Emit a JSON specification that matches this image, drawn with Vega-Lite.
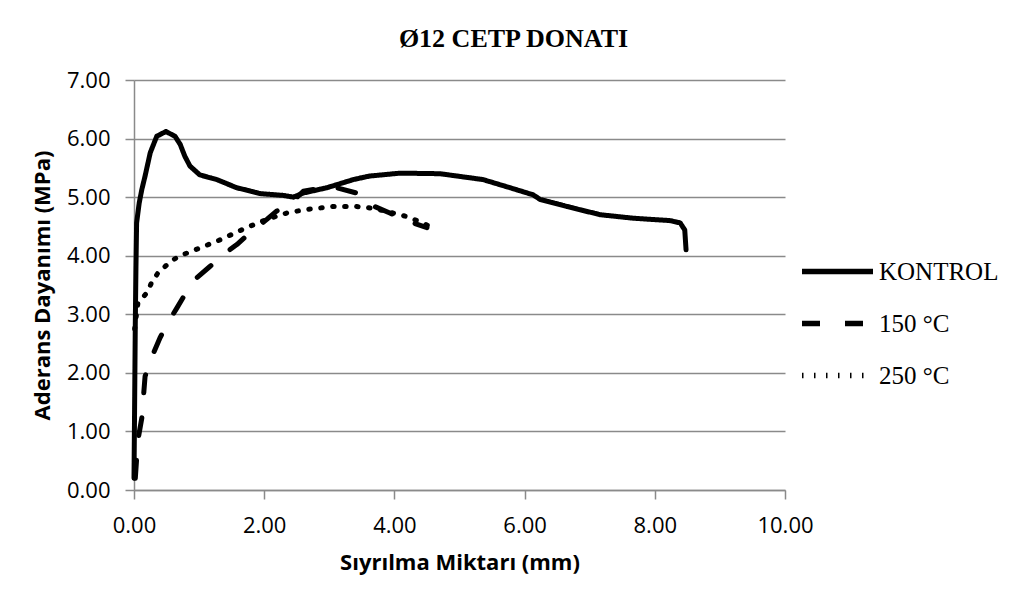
{
  "$schema": "https://vega.github.io/schema/vega-lite/v6.json",
  "autosize": "none",
  "width": 651,
  "height": 410,
  "padding": {"left": 134, "top": 80, "right": 234, "bottom": 120},
  "background": "white",
  "title": {
    "text": "Ø12 CETP DONATI",
    "font": "Liberation Serif",
    "fontSize": 26,
    "fontWeight": "bold",
    "color": "black",
    "anchor": "middle",
    "dx": 54,
    "baseline": "alphabetic",
    "offset": -4
  },
  "config": {
    "view": {"stroke": null},
    "line": {"strokeCap": "round", "strokeJoin": "round"}
  },
  "data": {
    "values": [
      {"s": "KONTROL", "i": 1, "x": 0.00, "y": 0.20},
      {"s": "KONTROL", "i": 2, "x": 0.01, "y": 1.50},
      {"s": "KONTROL", "i": 3, "x": 0.02, "y": 2.85},
      {"s": "KONTROL", "i": 4, "x": 0.03, "y": 3.80},
      {"s": "KONTROL", "i": 5, "x": 0.04, "y": 4.56},
      {"s": "KONTROL", "i": 6, "x": 0.08, "y": 4.90},
      {"s": "KONTROL", "i": 7, "x": 0.12, "y": 5.13},
      {"s": "KONTROL", "i": 8, "x": 0.17, "y": 5.36},
      {"s": "KONTROL", "i": 9, "x": 0.25, "y": 5.76},
      {"s": "KONTROL", "i": 10, "x": 0.35, "y": 6.04},
      {"s": "KONTROL", "i": 11, "x": 0.49, "y": 6.12},
      {"s": "KONTROL", "i": 12, "x": 0.63, "y": 6.04},
      {"s": "KONTROL", "i": 13, "x": 0.71, "y": 5.90},
      {"s": "KONTROL", "i": 14, "x": 0.78, "y": 5.70},
      {"s": "KONTROL", "i": 15, "x": 0.86, "y": 5.53},
      {"s": "KONTROL", "i": 16, "x": 1.01, "y": 5.38},
      {"s": "KONTROL", "i": 17, "x": 1.27, "y": 5.30},
      {"s": "KONTROL", "i": 18, "x": 1.58, "y": 5.16},
      {"s": "KONTROL", "i": 19, "x": 1.94, "y": 5.06},
      {"s": "KONTROL", "i": 20, "x": 2.29, "y": 5.03},
      {"s": "KONTROL", "i": 21, "x": 2.45, "y": 5.00},
      {"s": "KONTROL", "i": 22, "x": 2.60, "y": 5.07},
      {"s": "KONTROL", "i": 23, "x": 2.96, "y": 5.16},
      {"s": "KONTROL", "i": 24, "x": 3.37, "y": 5.30},
      {"s": "KONTROL", "i": 25, "x": 3.62, "y": 5.36},
      {"s": "KONTROL", "i": 26, "x": 4.09, "y": 5.41},
      {"s": "KONTROL", "i": 27, "x": 4.70, "y": 5.40},
      {"s": "KONTROL", "i": 28, "x": 5.36, "y": 5.30},
      {"s": "KONTROL", "i": 29, "x": 5.78, "y": 5.16},
      {"s": "KONTROL", "i": 30, "x": 6.13, "y": 5.04},
      {"s": "KONTROL", "i": 31, "x": 6.24, "y": 4.96},
      {"s": "KONTROL", "i": 32, "x": 6.65, "y": 4.84},
      {"s": "KONTROL", "i": 33, "x": 7.16, "y": 4.70},
      {"s": "KONTROL", "i": 34, "x": 7.67, "y": 4.64},
      {"s": "KONTROL", "i": 35, "x": 8.23, "y": 4.60},
      {"s": "KONTROL", "i": 36, "x": 8.39, "y": 4.56},
      {"s": "KONTROL", "i": 37, "x": 8.46, "y": 4.44},
      {"s": "KONTROL", "i": 38, "x": 8.48, "y": 4.10},
      {"s": "150 °C", "i": 1, "x": 0.02, "y": 0.20},
      {"s": "150 °C", "i": 2, "x": 0.06, "y": 0.85},
      {"s": "150 °C", "i": 3, "x": 0.12, "y": 1.23},
      {"s": "150 °C", "i": 4, "x": 0.17, "y": 1.94},
      {"s": "150 °C", "i": 5, "x": 0.30, "y": 2.34},
      {"s": "150 °C", "i": 6, "x": 0.40, "y": 2.60},
      {"s": "150 °C", "i": 7, "x": 0.55, "y": 2.91},
      {"s": "150 °C", "i": 8, "x": 0.66, "y": 3.11},
      {"s": "150 °C", "i": 9, "x": 0.81, "y": 3.39},
      {"s": "150 °C", "i": 10, "x": 0.96, "y": 3.62},
      {"s": "150 °C", "i": 11, "x": 1.17, "y": 3.82},
      {"s": "150 °C", "i": 12, "x": 1.37, "y": 4.02},
      {"s": "150 °C", "i": 13, "x": 1.58, "y": 4.19},
      {"s": "150 °C", "i": 14, "x": 1.78, "y": 4.39},
      {"s": "150 °C", "i": 15, "x": 2.04, "y": 4.62},
      {"s": "150 °C", "i": 16, "x": 2.19, "y": 4.76},
      {"s": "150 °C", "i": 17, "x": 2.44, "y": 4.93},
      {"s": "150 °C", "i": 18, "x": 2.60, "y": 5.10},
      {"s": "150 °C", "i": 19, "x": 2.90, "y": 5.16},
      {"s": "150 °C", "i": 20, "x": 3.11, "y": 5.16},
      {"s": "150 °C", "i": 21, "x": 3.42, "y": 5.07},
      {"s": "150 °C", "i": 22, "x": 3.57, "y": 4.90},
      {"s": "150 °C", "i": 23, "x": 3.93, "y": 4.73},
      {"s": "150 °C", "i": 24, "x": 4.13, "y": 4.62},
      {"s": "150 °C", "i": 25, "x": 4.50, "y": 4.48},
      {"s": "250 °C", "i": 1, "x": 0.01, "y": 2.75},
      {"s": "250 °C", "i": 2, "x": 0.06, "y": 3.19},
      {"s": "250 °C", "i": 3, "x": 0.20, "y": 3.37},
      {"s": "250 °C", "i": 4, "x": 0.27, "y": 3.54},
      {"s": "250 °C", "i": 5, "x": 0.37, "y": 3.71},
      {"s": "250 °C", "i": 6, "x": 0.48, "y": 3.82},
      {"s": "250 °C", "i": 7, "x": 0.60, "y": 3.93},
      {"s": "250 °C", "i": 8, "x": 0.73, "y": 4.01},
      {"s": "250 °C", "i": 9, "x": 1.01, "y": 4.13},
      {"s": "250 °C", "i": 10, "x": 1.32, "y": 4.27},
      {"s": "250 °C", "i": 11, "x": 1.73, "y": 4.48},
      {"s": "250 °C", "i": 12, "x": 2.04, "y": 4.62},
      {"s": "250 °C", "i": 13, "x": 2.35, "y": 4.73},
      {"s": "250 °C", "i": 14, "x": 2.65, "y": 4.79},
      {"s": "250 °C", "i": 15, "x": 3.06, "y": 4.84},
      {"s": "250 °C", "i": 16, "x": 3.42, "y": 4.84},
      {"s": "250 °C", "i": 17, "x": 3.60, "y": 4.82},
      {"s": "250 °C", "i": 18, "x": 3.75, "y": 4.79},
      {"s": "250 °C", "i": 19, "x": 4.09, "y": 4.70},
      {"s": "250 °C", "i": 20, "x": 4.24, "y": 4.65},
      {"s": "250 °C", "i": 21, "x": 4.55, "y": 4.50}
    ]
  },
  "mark": {"type": "line", "strokeWidth": 5, "color": "black", "strokeCap": "round", "strokeJoin": "round"},
  "encoding": {
    "x": {
      "field": "x", "type": "quantitative",
      "scale": {"domain": [0, 10], "nice": false, "zero": false},
      "axis": {
        "values": [0, 2, 4, 6, 8, 10],
        "format": ".2f",
        "title": "Sıyrılma Miktarı (mm)",
        "grid": false,
        "domainColor": "#8a8a8a", "domainWidth": 1.5,
        "tickColor": "#8a8a8a", "tickWidth": 1.5, "tickSize": 9,
        "labelFont": "Open Sans", "labelFontSize": 22, "labelColor": "black", "labelPadding": 16,
        "titleFont": "Open Sans", "titleFontSize": 22, "titleFontWeight": "bold", "titleColor": "black", "titlePadding": 16,
        "labelFlush": false, "labelOverlap": false
      }
    },
    "y": {
      "field": "y", "type": "quantitative",
      "scale": {"domain": [0, 7], "nice": false},
      "axis": {
        "values": [0, 1, 2, 3, 4, 5, 6, 7],
        "format": ".2f",
        "title": "Aderans Dayanımı (MPa)",
        "grid": true, "gridColor": "#8a8a8a", "gridWidth": 1.5,
        "domainColor": "#8a8a8a", "domainWidth": 1.5,
        "tickColor": "#8a8a8a", "tickWidth": 1.5, "tickSize": 9,
        "labelFont": "Open Sans", "labelFontSize": 22, "labelColor": "black", "labelPadding": 15,
        "titleFont": "Open Sans", "titleFontSize": 22, "titleFontWeight": "bold", "titleColor": "black", "titlePadding": 12,
        "labelFlush": false, "labelOverlap": false
      }
    },
    "strokeDash": {
      "field": "s", "type": "nominal",
      "scale": {"domain": ["KONTROL", "150 °C", "250 °C"], "range": [[1, 0], [18, 25], [1.5, 10.5]]},
      "legend": {
        "title": null,
        "orient": "none",
        "legendX": 665,
        "legendY": 153,
        "symbolType": "stroke",
        "symbolSize": 5041,
        "symbolStrokeWidth": 5.5,
        "symbolStrokeColor": "black",
        "labelFont": "Liberation Serif",
        "labelFontSize": 25,
        "labelColor": "black",
        "labelOffset": 3,
        "rowPadding": -10,
        "encode": {"symbols": {"enter": {"strokeCap": {"value": "round"}}, "update": {"strokeCap": {"value": "round"}}}}
      }
    },
    "order": {"field": "i", "type": "quantitative"}
  }
}
